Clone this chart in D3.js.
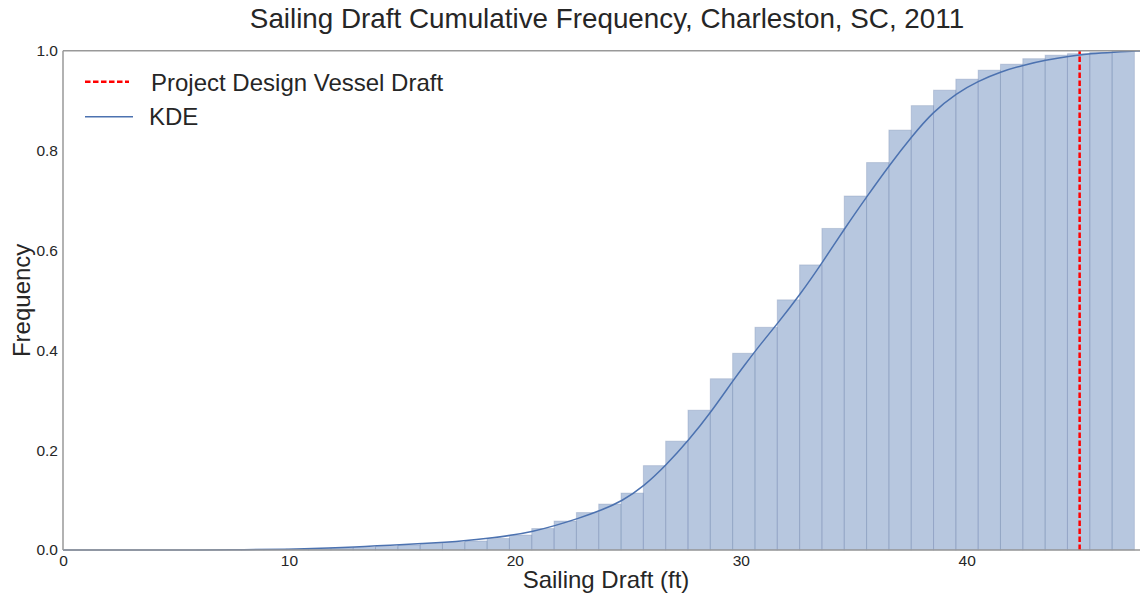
<!DOCTYPE html>
<html>
<head>
<meta charset="utf-8">
<script src="https://cdn.jsdelivr.net/npm/d3@7"></script>
<style>
  html, body { margin: 0; padding: 0; background: #fff; }
  svg { display: block; font-family: "Liberation Sans", Arial, sans-serif; }
</style>
</head>
<body>
<svg id="chart" width="1140" height="600"></svg>
<script>
// Cumulative histogram of sailing drafts: equal-width bins starting at 0 ft
const binStart = 0;
const binWidth = 0.988;
const cumFreq = [
  0, 0, 0, 0, 0, 0, 0.0001, 0.0003, 0.0006, 0.001,
  0.002, 0.003, 0.004, 0.005, 0.007, 0.010, 0.013, 0.015, 0.018, 0.023,
  0.030, 0.043, 0.058, 0.075, 0.092, 0.114, 0.169, 0.218, 0.280, 0.343,
  0.394, 0.446, 0.501, 0.571, 0.644, 0.709, 0.776, 0.841, 0.890, 0.921,
  0.943, 0.961, 0.973, 0.984, 0.991, 0.994, 0.997, 1.0
];

// Cumulative KDE curve (draft in ft, cumulative frequency)
const kdeDraft = [0, 4, 6, 8, 10, 11.9, 12.9, 13.9, 14.9, 15.9, 16.9, 17.85, 18.8, 19.8,
  20.8, 21.8, 22.8, 23.8, 24.75, 25.7, 26.7, 27.7, 28.7, 29.7, 30.2, 30.8, 31.6, 32.6,
  33.6, 34.6, 35.6, 36.6, 37.6, 38.5, 39.55, 40.5, 41.5, 42.5, 43.5, 44.5, 45.5, 46.5, 47.6, 48.1];
const kdeCum = [0, 0, 0.0001, 0.0005, 0.0015, 0.004, 0.006, 0.0086, 0.0105, 0.0127, 0.0154, 0.0187, 0.0234, 0.029,
  0.037, 0.049, 0.063, 0.079, 0.098, 0.127, 0.170, 0.220, 0.277, 0.342, 0.372, 0.408, 0.452, 0.510,
  0.575, 0.644, 0.709, 0.772, 0.830, 0.877, 0.915, 0.939, 0.958, 0.971, 0.981, 0.989, 0.994, 0.997, 0.9998, 1.0];

// Design vessel draft marker
const designDraft = 45;

const xTicks = [0, 10, 20, 30, 40];
const yTicks = [0, 0.2, 0.4, 0.6, 0.8, 1.0];

const titleText = "Sailing Draft Cumulative Frequency, Charleston, SC, 2011";
const xLabel = "Sailing Draft (ft)";
const yLabel = "Frequency";
const legendLabels = ["Project Design Vessel Draft", "KDE"];

const blue = "#4C72B0";
const textColor = "#262626";

const svg = d3.select("#chart");
const margin = { left: 63, right: 1149, top: 50.7, bottom: 550 };

const x = d3.scaleLinear().domain([0, 48.07]).range([margin.left, margin.right]);
const y = d3.scaleLinear().domain([0, 1]).range([margin.bottom, margin.top]);

// Bars
const bins = cumFreq.map((v, i) => ({ x0: binStart + i * binWidth, x1: binStart + (i + 1) * binWidth, v }));
svg.append("g")
  .selectAll("rect")
  .data(bins)
  .join("rect")
  .attr("x", d => x(d.x0))
  .attr("y", d => y(d.v))
  .attr("width", d => x(d.x1) - x(d.x0))
  .attr("height", d => y(0) - y(d.v))
  .attr("fill", blue)
  .attr("fill-opacity", 0.4)
  .attr("stroke", "#6f86ad")
  .attr("stroke-opacity", 0.3)
  .attr("stroke-width", 1);

// KDE line
const kdePts = kdeDraft.map((d, i) => [d, kdeCum[i]]);
svg.append("path")
  .datum(kdePts)
  .attr("fill", "none")
  .attr("stroke", blue)
  .attr("stroke-width", 1.5)
  .attr("d", d3.line().x(d => x(d[0])).y(d => y(d[1])).curve(d3.curveBasis));

// Design draft line
svg.append("line")
  .attr("x1", x(designDraft)).attr("x2", x(designDraft))
  .attr("y1", y(0)).attr("y2", y(1))
  .attr("stroke", "red")
  .attr("stroke-width", 2.5)
  .attr("stroke-dasharray", "5.5,2.5");

// Spines
const spine = svg.append("g").attr("stroke", "#999").attr("stroke-width", 1.5).attr("fill", "none");
spine.append("line").attr("x1", margin.left).attr("x2", margin.right).attr("y1", margin.bottom).attr("y2", margin.bottom);
spine.append("line").attr("x1", margin.left).attr("x2", margin.right).attr("y1", margin.top).attr("y2", margin.top);
spine.append("line").attr("x1", margin.left).attr("x2", margin.left).attr("y1", margin.top).attr("y2", margin.bottom);

// Axes (labels only, no tick marks)
const xAxis = svg.append("g")
  .attr("transform", `translate(0,${margin.bottom})`)
  .call(d3.axisBottom(x).tickValues(xTicks).tickFormat(d3.format("d")).tickSize(0).tickPadding(5));
xAxis.select(".domain").remove();
xAxis.selectAll("text").attr("font-size", "15.5px").attr("fill", textColor).attr("font-family", "Liberation Sans, Arial, sans-serif");

const yAxis = svg.append("g")
  .attr("transform", `translate(${margin.left},0)`)
  .call(d3.axisLeft(y).tickValues(yTicks).tickFormat(d3.format(".1f")).tickSize(0).tickPadding(5));
yAxis.select(".domain").remove();
yAxis.selectAll("text").attr("font-size", "15.5px").attr("fill", textColor).attr("font-family", "Liberation Sans, Arial, sans-serif");

// Titles
const cx = (margin.left + margin.right) / 2;
svg.append("text").attr("x", cx + 1).attr("y", 28).attr("text-anchor", "middle")
  .attr("font-size", "27.8px").attr("fill", textColor).text(titleText);
svg.append("text").attr("x", cx).attr("y", 588).attr("text-anchor", "middle")
  .attr("font-size", "24px").attr("fill", textColor).text(xLabel);
svg.append("text").attr("transform", `translate(30,${(margin.top + margin.bottom) / 2}) rotate(-90)`)
  .attr("text-anchor", "middle").attr("font-size", "24px").attr("fill", textColor).text(yLabel);

// Legend
const legend = svg.append("g");
legend.append("line").attr("x1", 85).attr("x2", 129).attr("y1", 81.7).attr("y2", 81.7)
  .attr("stroke", "red").attr("stroke-width", 2.5).attr("stroke-dasharray", "5.5,2.5");
legend.append("text").attr("x", 151).attr("y", 90.5).attr("font-size", "24px").attr("fill", textColor).text(legendLabels[0]);
legend.append("line").attr("x1", 85).attr("x2", 133).attr("y1", 116.7).attr("y2", 116.7)
  .attr("stroke", blue).attr("stroke-width", 1.5);
legend.append("text").attr("x", 149).attr("y", 124.5).attr("font-size", "24px").attr("fill", textColor).text(legendLabels[1]);
</script>
</body>
</html>
